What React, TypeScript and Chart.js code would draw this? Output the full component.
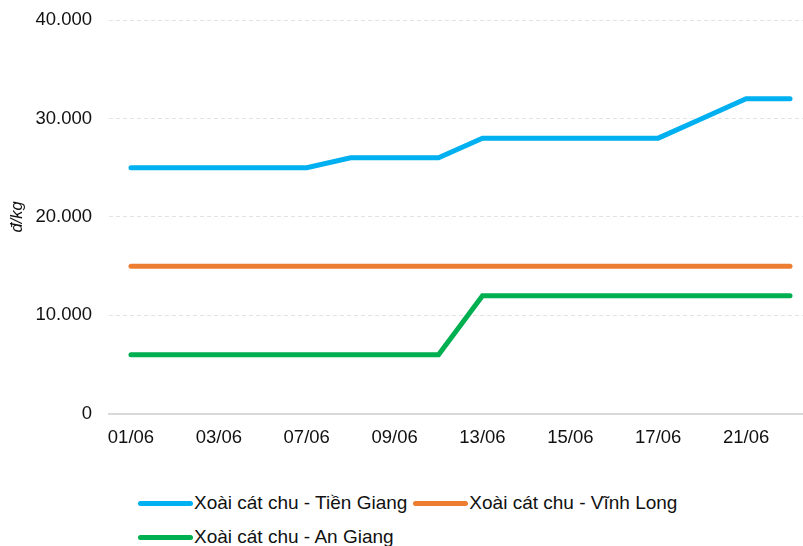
import React, { useEffect, useRef } from "react";
import { Chart, registerables } from "chart.js";

Chart.register(...registerables);

const categories = [
  "01/06", "02/06", "03/06", "06/06", "07/06", "08/06", "09/06", "10/06",
  "13/06", "14/06", "15/06", "16/06", "17/06", "20/06", "21/06", "22/06",
];
const tienGiang = [25000, 25000, 25000, 25000, 25000, 26000, 26000, 26000, 28000, 28000, 28000, 28000, 28000, 30000, 32000, 32000];
const vinhLong = [15000, 15000, 15000, 15000, 15000, 15000, 15000, 15000, 15000, 15000, 15000, 15000, 15000, 15000, 15000, 15000];
const anGiang = [6000, 6000, 6000, 6000, 6000, 6000, 6000, 6000, 12000, 12000, 12000, 12000, 12000, 12000, 12000, 12000];
const seriesNames = ["Xoài cát chu - Tiền Giang", "Xoài cát chu - Vĩnh Long", "Xoài cát chu - An Giang"];
const seriesColors = ["#00B0F0", "#ED7D31", "#00B050"];
const yTitle = "đ/kg";

const FONT = "'Liberation Sans', Arial, sans-serif";

function fmt(v: number) {
  return String(Math.round(v)).replace(/\B(?=(\d{3})+(?!\d))/g, ".");
}

export default function App() {
  const ref = useRef<HTMLCanvasElement | null>(null);
  useEffect(() => {
    if (!ref.current) return;
    const values = [tienGiang, vinhLong, anGiang];
    const chart = new Chart(ref.current, {
      type: "line",
      data: {
        labels: categories,
        datasets: values.map((d, i) => ({
          label: seriesNames[i],
          data: d,
          borderColor: seriesColors[i],
          backgroundColor: seriesColors[i],
          borderWidth: 5,
          pointRadius: 0,
          borderCapStyle: "round" as const,
          tension: 0,
        })),
      },
      options: {
        animation: false,
        responsive: false,
        layout: { padding: { top: 20, right: 0, bottom: 11, left: 0 } },
        plugins: { legend: { display: false }, tooltip: { enabled: false } },
        scales: {
          x: {
            offset: true,
            grid: { display: false, drawTicks: false },
            border: { display: true, color: "#d9d9d9", width: 2 },
            ticks: {
              autoSkip: false,
              maxRotation: 0,
              padding: 13,
              color: "#111",
              font: { family: FONT, size: 18.5 },
              callback: (_v: any, i: number) => (i % 2 === 0 ? categories[i] : ""),
            },
          },
          y: {
            min: 0,
            max: 40000,
            ticks: {
              stepSize: 10000,
              padding: 17,
              color: "#111",
              font: { family: FONT, size: 18.5 },
              callback: (v: any) => fmt(Number(v)),
            },
            grid: {
              drawTicks: false,
              color: (ctx: any) => (ctx.tick && ctx.tick.value === 0 ? "rgba(0,0,0,0)" : "#e3e3e3"),
              lineWidth: 1,
            },
            border: { display: false, dash: [4, 3] },
            title: {
              display: true,
              text: yTitle,
              color: "#111",
              font: { family: FONT, size: 16.5, style: "italic" },
              padding: { top: 8, bottom: 0 },
            },
            afterFit: (scale: any) => {
              scale.width = 109;
              scale.paddingTop = 0;
              scale.paddingBottom = 0;
            },
          },
        },
      },
    });
    return () => chart.destroy();
  }, []);

  const legendItem = (i: number) => (
    <div key={i} style={{ display: "flex", alignItems: "center", marginRight: 6, height: 34 }}>
      <span
        style={{
          display: "inline-block",
          width: 55,
          height: 5,
          borderRadius: 3,
          background: seriesColors[i],
          marginRight: 1,
        }}
      />
      <span style={{ fontFamily: FONT, fontSize: 19, color: "#111", whiteSpace: "nowrap" }}>{seriesNames[i]}</span>
    </div>
  );

  return (
    <div style={{ position: "absolute", left: 0, top: 0, width: 803, height: 546, overflow: "hidden", background: "#fff" }}>
      <canvas ref={ref} width={812} height={473} style={{ position: "absolute", left: 0, top: 0 }} />
      <div
        style={{
          position: "absolute",
          left: 138,
          top: 486,
          width: 580,
          display: "flex",
          flexWrap: "wrap",
        }}
      >
        {[0, 1, 2].map(legendItem)}
      </div>
    </div>
  );
}
